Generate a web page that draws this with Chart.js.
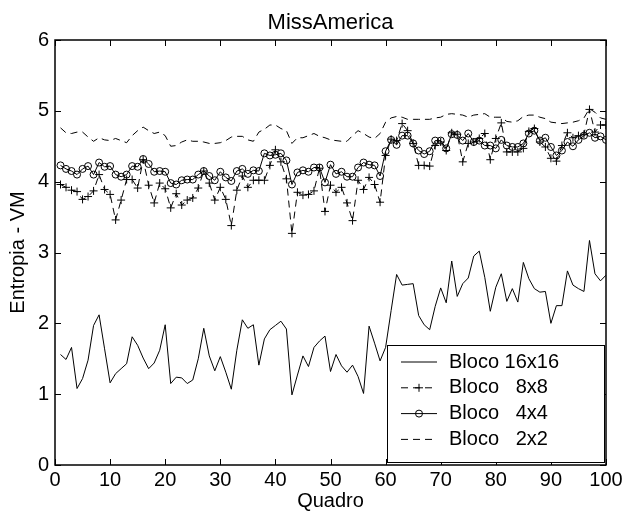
<!DOCTYPE html>
<html>
<head>
<meta charset="utf-8">
<script src="https://cdn.jsdelivr.net/npm/chart.js@4.4.1/dist/chart.umd.min.js"></script>
<style>
  html, body { margin:0; padding:0; background:#fff; }
  #wrap { width:628px; height:521px; }
</style>
</head>
<body>
<div id="wrap"><canvas id="chart" width="628" height="521"></canvas></div>
<script>
// quadro numbers 1..100
const frames = Array.from({ length: 100 }, (_, i) => i + 1);

const bloco16 = [
  1.56, 1.49, 1.66, 1.08, 1.22, 1.48, 1.97, 2.12, 1.64, 1.16,
  1.29, 1.36, 1.43, 1.81, 1.69, 1.51, 1.36, 1.44, 1.62, 1.98,
  1.15, 1.24, 1.23, 1.15, 1.20, 1.50, 1.93, 1.54, 1.33, 1.53,
  1.31, 1.07, 1.62, 2.05, 1.93, 1.98, 1.41, 1.78, 1.91, 1.97,
  2.03, 1.92, 0.99, 1.27, 1.54, 1.39, 1.66, 1.75, 1.82, 1.32,
  1.56, 1.40, 1.31, 1.41, 1.25, 1.01, 1.96, 1.72, 1.47, 1.66,
  2.18, 2.69, 2.54, 2.55, 2.56, 2.11, 1.98, 1.91, 2.24, 2.50,
  2.29, 2.88, 2.38, 2.56, 2.64, 2.95, 3.02, 2.65, 2.17, 2.51,
  2.70, 2.31, 2.49, 2.30, 2.86, 2.63, 2.49, 2.44, 2.45, 2.00,
  2.25, 2.25, 2.74, 2.54, 2.49, 2.45, 3.17, 2.70, 2.60, 2.68
];
const bloco8 = [
  3.96, 3.92, 3.88, 3.86, 3.75, 3.79, 3.87, 4.10, 3.89, 3.82,
  3.46, 3.74, 4.03, 4.03, 3.91, 4.31, 3.95, 3.70, 3.98, 3.90,
  3.63, 3.83, 3.67, 3.74, 3.77, 3.91, 4.15, 3.98, 3.74, 3.92,
  3.75, 3.38, 3.88, 4.08, 3.92, 4.02, 4.02, 4.02, 4.23, 4.45,
  4.28, 4.04, 3.27, 3.85, 3.81, 3.82, 3.87, 4.19, 3.58, 3.95,
  3.85, 3.92, 3.70, 3.45, 4.02, 3.89, 4.06, 3.96, 3.71, 4.37,
  4.60, 4.58, 4.82, 4.72, 4.54, 4.23, 4.23, 4.22, 4.51, 4.56,
  4.44, 4.69, 4.67, 4.28, 4.54, 4.56, 4.61, 4.68, 4.31, 4.61,
  4.83, 4.42, 4.42, 4.42, 4.47, 4.71, 4.75, 4.56, 4.49, 4.33,
  4.29, 4.51, 4.69, 4.62, 4.65, 4.67, 5.02, 4.70, 4.80, 4.80
];
const bloco4 = [
  4.23, 4.18, 4.15, 4.10, 4.18, 4.22, 4.10, 4.27, 4.21, 4.22,
  4.10, 4.07, 4.10, 4.22, 4.21, 4.32, 4.25, 4.14, 4.15, 4.14,
  3.98, 3.96, 4.02, 4.03, 4.03, 4.10, 4.15, 4.08, 4.02, 4.14,
  4.06, 4.01, 4.15, 4.18, 4.11, 4.16, 4.15, 4.40, 4.37, 4.38,
  4.40, 4.30, 3.96, 4.13, 4.16, 4.14, 4.20, 4.20, 3.99, 4.24,
  4.11, 4.14, 4.07, 4.07, 4.20, 4.27, 4.24, 4.23, 4.08, 4.43,
  4.59, 4.52, 4.65, 4.65, 4.54, 4.44, 4.39, 4.43, 4.58, 4.58,
  4.47, 4.67, 4.66, 4.58, 4.68, 4.56, 4.58, 4.51, 4.51, 4.47,
  4.59, 4.51, 4.49, 4.49, 4.54, 4.68, 4.72, 4.58, 4.62, 4.49,
  4.37, 4.44, 4.56, 4.50, 4.59, 4.65, 4.69, 4.62, 4.64, 4.59
];
const bloco2 = [
  4.76, 4.69, 4.68, 4.70, 4.70, 4.63, 4.57, 4.62, 4.59, 4.58,
  4.61, 4.58, 4.55, 4.65, 4.72, 4.77, 4.72, 4.68, 4.70, 4.65,
  4.50, 4.51, 4.56, 4.59, 4.57, 4.57, 4.56, 4.54, 4.54, 4.55,
  4.58, 4.63, 4.64, 4.64, 4.59, 4.57, 4.70, 4.74, 4.80, 4.80,
  4.75, 4.72, 4.54, 4.62, 4.62, 4.65, 4.68, 4.64, 4.62, 4.59,
  4.58, 4.57, 4.57, 4.65, 4.72, 4.68, 4.63, 4.61, 4.68, 4.84,
  4.90, 4.92, 4.91, 4.88, 4.88, 4.88, 4.88, 4.88, 4.90, 4.91,
  4.95, 4.96, 4.95, 4.94, 4.91, 4.94, 4.95, 4.96, 4.91, 4.91,
  4.91, 4.85, 4.84, 4.86, 4.92, 4.94, 4.94, 4.91, 4.89, 4.84,
  4.83, 4.82, 4.83, 4.84, 4.86, 4.90, 5.03, 4.98, 4.90, 4.88
];

const seriesNames = ["Bloco 16x16", "Bloco   8x8", "Bloco   4x4", "Bloco   2x2"];
const xTicks = [0, 10, 20, 30, 40, 50, 60, 70, 80, 90, 100];
const yTicks = [0, 1, 2, 3, 4, 5, 6];

const FONT = "'Liberation Sans', Arial, Helvetica, sans-serif";
const TICK = 6;
const DASH = [7, 5];

const pts = (vals) => vals.map((v, i) => ({ x: frames[i], y: v }));

function drawMarker(ctx, style, x, y){
  ctx.beginPath();
  if(style === "cross"){
    ctx.moveTo(x - 4, y); ctx.lineTo(x + 4, y);
    ctx.moveTo(x, y - 4); ctx.lineTo(x, y + 4);
  } else if(style === "circle"){
    ctx.arc(x, y, 3.5, 0, Math.PI * 2);
  }
  ctx.stroke();
}

// matlab style box with inward ticks
const frameTicks = {
  id: "frameTicks",
  afterDatasetsDraw(chart){
    const { ctx, chartArea: a, scales: { x, y } } = chart;
    ctx.save();
    ctx.strokeStyle = "#000";
    ctx.setLineDash([]);
    ctx.lineWidth = 1;
    ctx.beginPath();
    xTicks.forEach(t => {
      const px = Math.round(x.getPixelForValue(t)) + 0.5;
      ctx.moveTo(px, a.bottom); ctx.lineTo(px, a.bottom - TICK);
      ctx.moveTo(px, a.top); ctx.lineTo(px, a.top + TICK);
    });
    yTicks.forEach(t => {
      const py = Math.round(y.getPixelForValue(t)) + 0.5;
      ctx.moveTo(a.left, py); ctx.lineTo(a.left + TICK, py);
      ctx.moveTo(a.right, py); ctx.lineTo(a.right - TICK, py);
    });
    ctx.stroke();
    ctx.lineWidth = 1.5;
    ctx.strokeRect(a.left, a.top, a.right - a.left, a.bottom - a.top);

    ctx.fillStyle = "#000";
    ctx.font = "22px " + FONT;
    ctx.textAlign = "center";
    ctx.textBaseline = "middle";
    ctx.fillText("MissAmerica", (a.left + a.right) / 2, 23);
    ctx.restore();
  }
};

const boxLegend = {
  id: "boxLegend",
  afterDraw(chart){
    const { ctx, chartArea: a } = chart;
    const w = 217, h = 117;
    const left = a.right - 2 - w, top = a.bottom - 3 - h;
    ctx.save();
    ctx.fillStyle = "#fff";
    ctx.fillRect(left, top, w, h);
    ctx.strokeStyle = "#000";
    ctx.lineWidth = 1;
    ctx.setLineDash([]);
    ctx.strokeRect(left + 0.5, top + 0.5, w, h);

    ctx.font = "20px " + FONT;
    ctx.textAlign = "left";
    ctx.textBaseline = "middle";
    chart.data.datasets.forEach((ds, i) => {
      const ry = top + 17 + i * 25.8;
      const x0 = left + 14, x1 = left + 50;
      ctx.strokeStyle = "#000";
      ctx.lineWidth = 1;
      ctx.setLineDash(ds.borderDash || []);
      ctx.beginPath();
      ctx.moveTo(x0, ry); ctx.lineTo(x1, ry);
      ctx.stroke();
      ctx.setLineDash([]);
      if(ds.pointRadius > 0) drawMarker(ctx, ds.pointStyle, (x0 + x1) / 2, ry);
      ctx.fillStyle = "#000";
      ctx.fillText(ds.label, left + 62, ry);
    });
    ctx.restore();
  }
};

const common = { borderColor: "#000", borderWidth: 1, tension: 0, fill: false, backgroundColor: "rgba(0,0,0,0)" };
const tickFont = { family: FONT, size: 20 };
const labelFont = { family: FONT, size: 20 };

new Chart(document.getElementById("chart"), {
  type: "line",
  data: {
    datasets: [
      { ...common, label: seriesNames[0], data: pts(bloco16), pointRadius: 0 },
      { ...common, label: seriesNames[1], data: pts(bloco8), borderDash: DASH, pointStyle: "cross", pointRadius: 4, pointBorderColor: "#000", pointBorderWidth: 1 },
      { ...common, label: seriesNames[2], data: pts(bloco4), pointStyle: "circle", pointRadius: 3.5, pointBorderColor: "#000", pointBackgroundColor: "rgba(0,0,0,0)", pointBorderWidth: 1 },
      { ...common, label: seriesNames[3], data: pts(bloco2), borderDash: DASH, pointRadius: 0 }
    ]
  },
  options: {
    responsive: false,
    animation: false,
    devicePixelRatio: 1,
    layout: { padding: { top: 40, right: 22, left: 0, bottom: 0 } },
    plugins: { legend: { display: false }, tooltip: { enabled: false }, title: { display: false } },
    elements: { point: { hoverRadius: 0 } },
    scales: {
      x: {
        type: "linear", min: 0, max: 100,
        afterFit: (s) => { s.height = 56; },
        afterBuildTicks: (s) => { s.ticks = xTicks.map(v => ({ value: v })); },
        grid: { display: false, drawTicks: false },
        border: { display: false },
        ticks: { color: "#000", font: tickFont, padding: 3, maxRotation: 0, autoSkip: false },
        title: { display: true, text: "Quadro", color: "#000", font: labelFont, padding: { top: 0, bottom: 8 } }
      },
      y: {
        min: 0, max: 6,
        afterFit: (s) => { s.width = 55; },
        afterBuildTicks: (s) => { s.ticks = yTicks.map(v => ({ value: v })); },
        grid: { display: false, drawTicks: false },
        border: { display: false },
        ticks: { color: "#000", font: tickFont, padding: 6 },
        title: { display: true, text: "Entropia - VM", color: "#000", font: labelFont, padding: { top: 6, bottom: 0 } }
      }
    }
  },
  plugins: [frameTicks, boxLegend]
});
</script>
</body>
</html>
